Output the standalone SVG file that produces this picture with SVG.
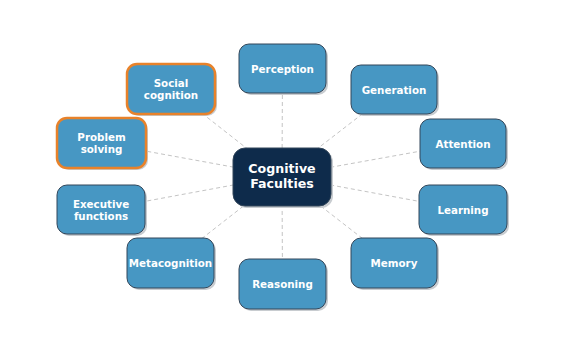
<svg xmlns="http://www.w3.org/2000/svg" width="569" height="348" viewBox="0 0 569 348">
<defs>
<style>
.n rect.b{fill:#4797c3;stroke:#33475b;stroke-width:1}
.n rect.s{fill:#c8ccd0;stroke:none}
.n.o rect.b{stroke:#e8822a;stroke-width:2.5}
.n text{font-family:"DejaVu Sans",sans-serif;font-weight:bold;font-size:10.3px;fill:#ffffff;text-anchor:middle;dominant-baseline:central}
.c rect.b{fill:#0e2b4b;stroke:#33475b;stroke-width:1}
.c text{font-size:12.6px}
.e line{stroke:#c4c4c4;stroke-width:1;stroke-dasharray:4 3}
</style>
</defs>
<rect width="569" height="348" fill="#ffffff"/>
<g class="e" id="connectors">
<line x1="282" y1="176" x2="282.5" y2="68.5"/>
<line x1="282" y1="176" x2="171" y2="89"/>
<line x1="282" y1="176" x2="394" y2="89.5"/>
<line x1="282" y1="176" x2="101.5" y2="143"/>
<line x1="282" y1="176" x2="463" y2="143.5"/>
<line x1="282" y1="176" x2="101" y2="209.5"/>
<line x1="282" y1="176" x2="463" y2="209.5"/>
<line x1="282" y1="176" x2="170.5" y2="263"/>
<line x1="282" y1="176" x2="394" y2="263"/>
<line x1="282" y1="176" x2="282.5" y2="284"/>
</g>
<g class="n" id="perception"><rect class="s" x="241" y="46" width="87" height="49" rx="10"/><rect class="b" x="239" y="44" width="87" height="49" rx="10"/><text x="282.5" y="68.5">Perception</text></g>
<g class="n o" id="social"><rect class="s" x="129" y="66" width="88" height="50" rx="10"/><rect class="b" x="127" y="64" width="88" height="50" rx="10"/><text x="171" y="83">Social</text><text x="171" y="94.5">cognition</text></g>
<g class="n" id="generation"><rect class="s" x="353" y="67" width="86" height="49" rx="10"/><rect class="b" x="351" y="65" width="86" height="49" rx="10"/><text x="394" y="89.5">Generation</text></g>
<g class="n o" id="problem"><rect class="s" x="59" y="120" width="89" height="50" rx="10"/><rect class="b" x="57" y="118" width="89" height="50" rx="10"/><text x="101.5" y="137">Problem</text><text x="101.5" y="148.5">solving</text></g>
<g class="n" id="attention"><rect class="s" x="422" y="121" width="86" height="49" rx="10"/><rect class="b" x="420" y="119" width="86" height="49" rx="10"/><text x="463" y="143.5">Attention</text></g>
<g class="n" id="executive"><rect class="s" x="59" y="187" width="88" height="49" rx="10"/><rect class="b" x="57" y="185" width="88" height="49" rx="10"/><text x="101" y="204">Executive</text><text x="101" y="215.5">functions</text></g>
<g class="n" id="learning"><rect class="s" x="421" y="187" width="88" height="49" rx="10"/><rect class="b" x="419" y="185" width="88" height="49" rx="10"/><text x="463" y="209.5">Learning</text></g>
<g class="n" id="metacognition"><rect class="s" x="129" y="240" width="87" height="50" rx="10"/><rect class="b" x="127" y="238" width="87" height="50" rx="10"/><text x="170.5" y="263">Metacognition</text></g>
<g class="n" id="memory"><rect class="s" x="353" y="240" width="86" height="50" rx="10"/><rect class="b" x="351" y="238" width="86" height="50" rx="10"/><text x="394" y="263">Memory</text></g>
<g class="n" id="reasoning"><rect class="s" x="241" y="261" width="87" height="50" rx="10"/><rect class="b" x="239" y="259" width="87" height="50" rx="10"/><text x="282.5" y="284">Reasoning</text></g>
<g class="n c" id="center"><rect class="s" x="235" y="150" width="98" height="58" rx="12"/><rect class="b" x="233" y="148" width="98" height="58" rx="12"/><text x="282" y="168.5">Cognitive</text><text x="282" y="183.5">Faculties</text></g>
</svg>
